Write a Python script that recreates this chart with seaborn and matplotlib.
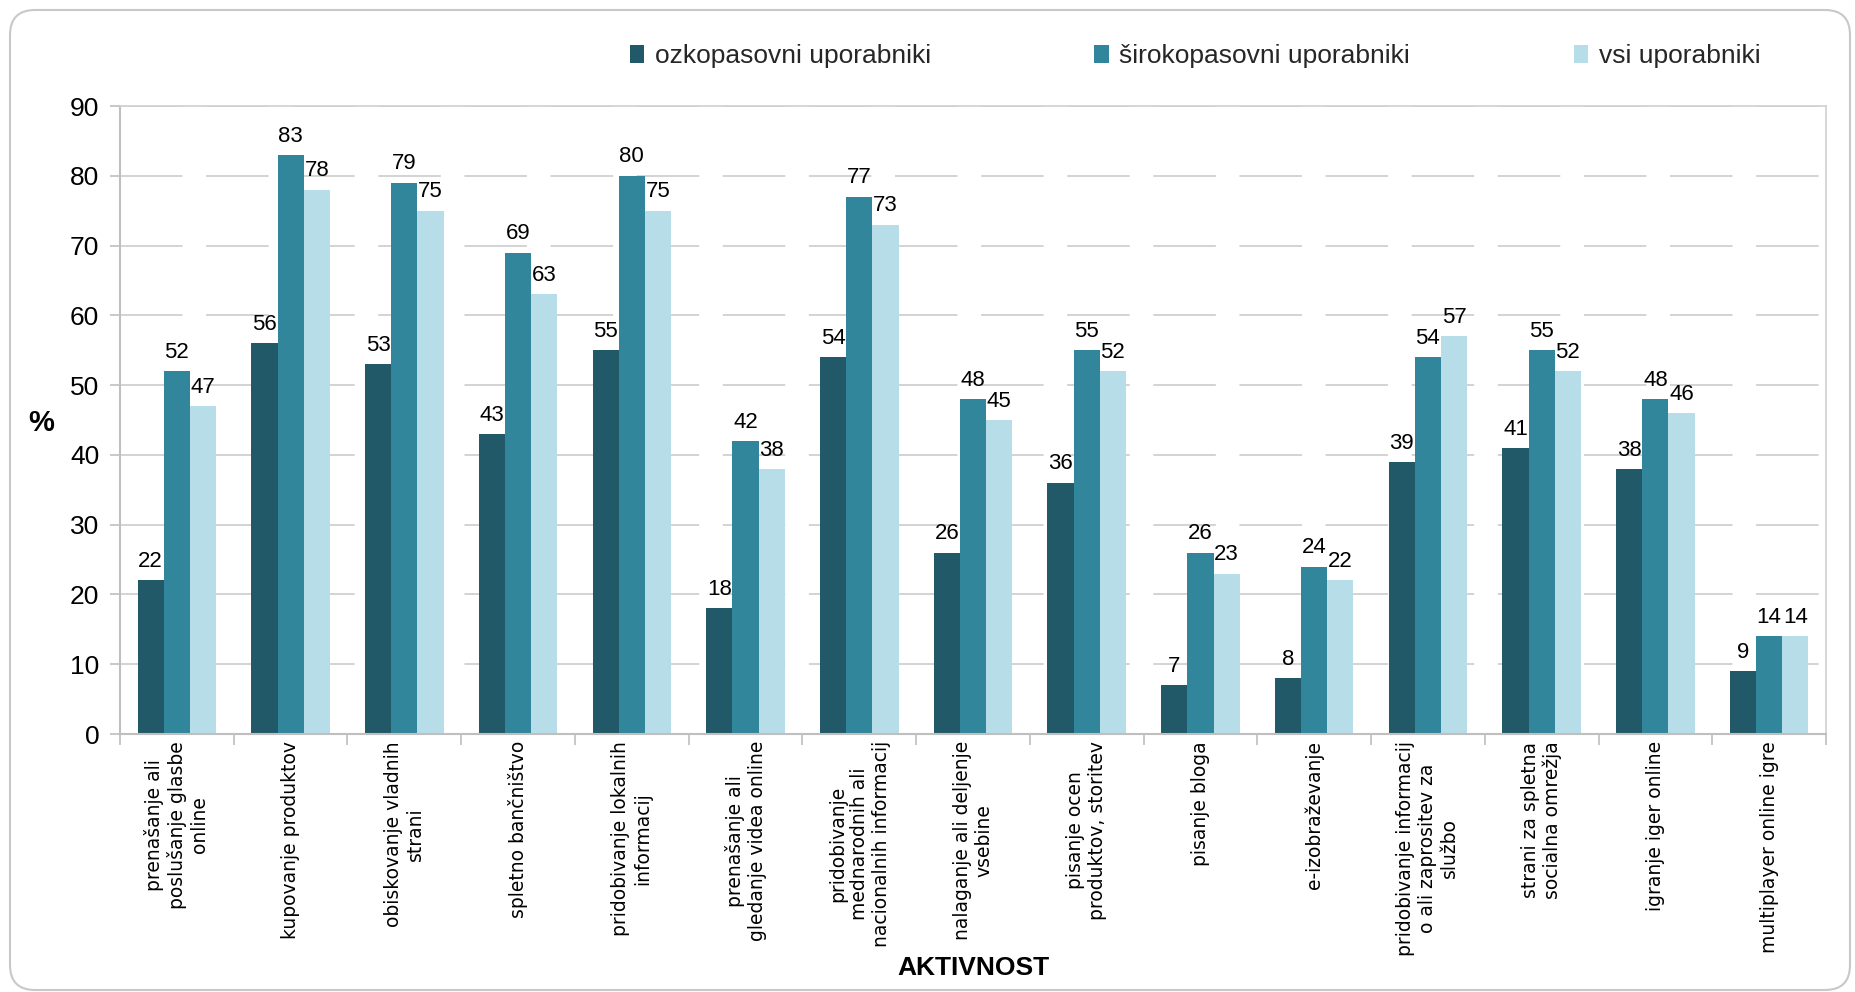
import numpy as np
import pandas as pd
import matplotlib
matplotlib.use("Agg")
import matplotlib.pyplot as plt
import seaborn as sns
from matplotlib.patches import Patch, FancyBboxPatch
from matplotlib import font_manager as fm

categories = [
    "prenašanje ali\nposlušanje glasbe\nonline",
    "kupovanje produktov",
    "obiskovanje vladnih\nstrani",
    "spletno bančništvo",
    "pridobivanje lokalnih\ninformacij",
    "prenašanje ali\ngledanje videa online",
    "pridobivanje\nmednarodnih ali\nnacionalnih informacij",
    "nalaganje ali deljenje\nvsebine",
    "pisanje ocen\nproduktov, storitev",
    "pisanje bloga",
    "e-izobraževanje",
    "pridobivanje informacij\no ali zaprositev za\nslužbo",
    "strani za spletna\nsocialna omrežja",
    "igranje iger online",
    "multiplayer online igre",
]
ozkopasovni = [22, 56, 53, 43, 55, 18, 54, 26, 36, 7, 8, 39, 41, 38, 9]
sirokopasovni = [52, 83, 79, 69, 80, 42, 77, 48, 55, 26, 24, 54, 55, 48, 14]
vsi = [47, 78, 75, 63, 75, 38, 73, 45, 52, 23, 22, 57, 52, 46, 14]
series_names = ["ozkopasovni uporabniki", "širokopasovni uporabniki", "vsi uporabniki"]
colors = ["#215968", "#31869B", "#B7DEE8"]
y_ticks = [0, 10, 20, 30, 40, 50, 60, 70, 80, 90]
x_title = "AKTIVNOST"
y_title = "%"

sns.set_theme(style="white")
names = {f.name for f in fm.fontManager.ttflist}
narrow = "Liberation Sans Narrow" if "Liberation Sans Narrow" in names else "Liberation Sans"
plt.rcParams["font.family"] = [narrow, "DejaVu Sans"]
plt.rcParams["lines.scale_dashes"] = False

df = pd.DataFrame({
    "aktivnost": categories * 3,
    "serija": np.repeat(series_names, len(categories)),
    "vrednost": ozkopasovni + sirokopasovni + vsi,
})

fig = plt.figure(figsize=(18.56, 9.92), dpi=100)
ax = fig.add_axes([120 / 1856, 1 - 734 / 992, (1826 - 120) / 1856, (734 - 106) / 992])

sns.barplot(data=df, x="aktivnost", y="vrednost", hue="serija", order=categories,
            hue_order=series_names, palette=colors, saturation=1, width=0.69,
            gap=0, ax=ax, legend=False, errorbar=None, linewidth=0, edgecolor="none")

for cont in ax.containers:
    ax.bar_label(cont, fmt="{:.0f}", padding=6, fontsize=16, color="black")

ax.set_ylim(y_ticks[0], y_ticks[-1])
ax.set_xlim(-0.5, len(categories) - 0.5)
ax.set_yticks(y_ticks)
ax.set_xlabel("")
ax.set_ylabel("")
ax.set_axisbelow(True)
ax.yaxis.grid(True, color="#D0D0D0", linewidth=1.3, linestyle=(0, (45, 17)))
ax.xaxis.grid(False)

for s in ["left", "bottom"]:
    ax.spines[s].set_color("#BFBFBF")
    ax.spines[s].set_linewidth(1.5)
for s in ["top", "right"]:
    ax.spines[s].set_color("#D0D0D0")
    ax.spines[s].set_linewidth(1.2)

ax.tick_params(axis="y", length=7, width=1.2, color="#BFBFBF", direction="out",
               labelsize=19, pad=8, left=True)
ax.set_xticks(range(len(categories)))
ax.set_xticklabels(categories)
ax.set_xticks(np.arange(-0.5, len(categories), 1), minor=True)
ax.tick_params(axis="x", which="major", length=0, pad=5, labelsize=13.5, labelrotation=90)
ax.tick_params(axis="x", which="minor", length=8, width=1.2, color="#BFBFBF",
               direction="out", bottom=True)
for lbl in ax.get_xticklabels():
    lbl.set_fontfamily(["DejaVu Sans"])
    lbl.set_multialignment("center")
    lbl.set_color("black")
for lbl in ax.get_yticklabels():
    lbl.set_color("black")

handles = [Patch(facecolor=c, edgecolor="none", label=n) for c, n in zip(colors, series_names)]
fig.legend(handles=handles, loc="center", bbox_to_anchor=(1195 / 1856, 1 - 56 / 992),
           ncol=3, frameon=False, fontsize=19, handlelength=0.55, handleheight=0.7,
           handletextpad=0.4, columnspacing=6.2)

fig.text(973 / 1856, 1 - 968 / 992, x_title, ha="center", va="center",
         fontsize=19, fontweight="bold", color="black")
fig.text(41 / 1856, 1 - 423 / 992, y_title, ha="center", va="center",
         fontsize=21, fontweight="bold", color="black")

frame = FancyBboxPatch((0.10, 0.02), 18.40, 9.80, boxstyle="round,pad=0,rounding_size=0.25",
                       transform=fig.dpi_scale_trans, facecolor="none",
                       edgecolor="#C8C8C8", linewidth=1.5)
fig.patches.append(frame)

fig.savefig("out.png", dpi=100)
